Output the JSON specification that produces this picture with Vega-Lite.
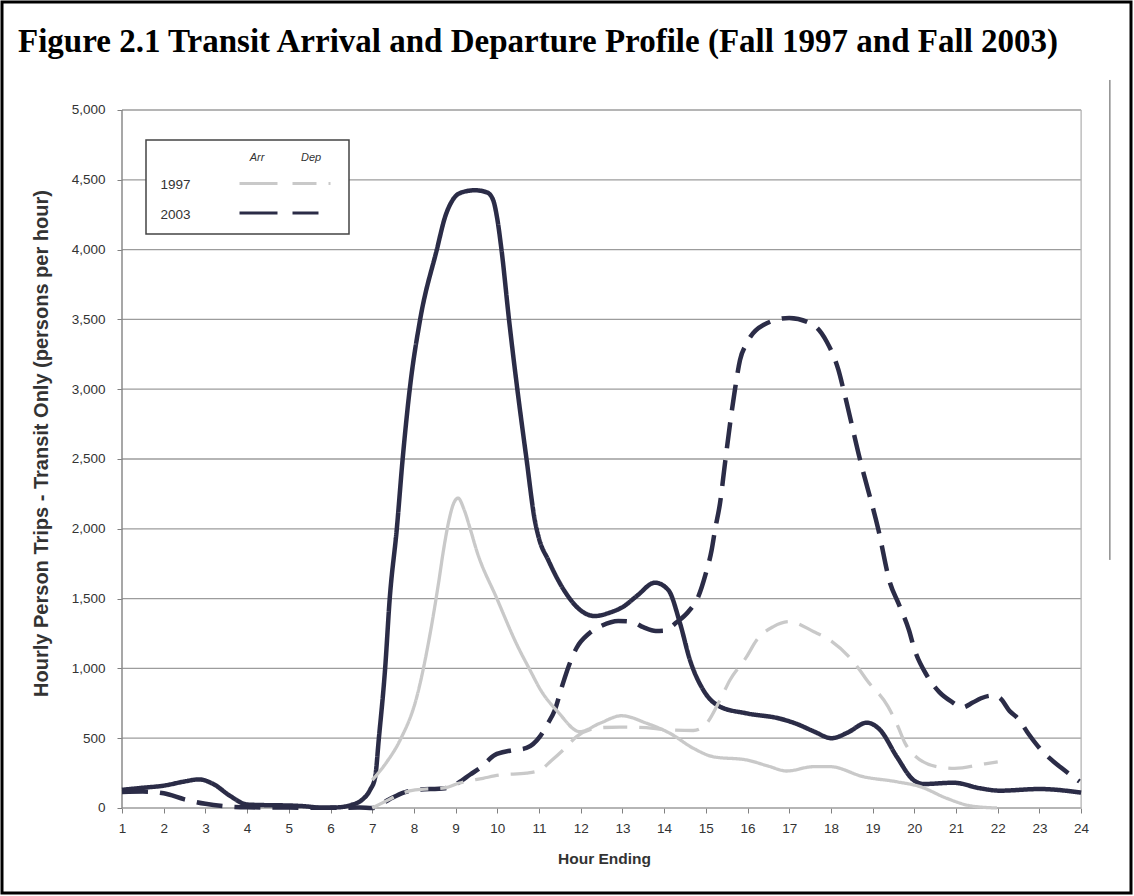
{
  "$schema": "https://vega.github.io/schema/vega-lite/v6.json",
  "width": 1129,
  "height": 891,
  "autosize": {"type": "none"},
  "padding": {"left": 2, "top": 2, "right": 3, "bottom": 3},
  "background": "white",
  "title": {
    "text": "Figure 2.1 Transit Arrival and Departure Profile (Fall 1997 and Fall 2003)",
    "font": "Liberation Serif", "fontSize": 33, "fontWeight": "bold", "color": "black",
    "anchor": "start", "orient": "top", "offset": 0, "dx": 16, "dy": 83, "baseline": "alphabetic"
  },
  "config": {
    "font": "Liberation Sans",
    "view": {"stroke": "black", "strokeWidth": 3, "fill": null},
    "legend": {"strokeWidth": 1.5}
  },
  "datasets": {
    "d": [
      {"s":"2003 Arr","yr":"2003","h":1,"v":130},{"s":"2003 Arr","yr":"2003","h":1.5,"v":145},{"s":"2003 Arr","yr":"2003","h":2,"v":160},{"s":"2003 Arr","yr":"2003","h":2.5,"v":190},{"s":"2003 Arr","yr":"2003","h":2.85,"v":205},{"s":"2003 Arr","yr":"2003","h":3.2,"v":170},{"s":"2003 Arr","yr":"2003","h":3.6,"v":85},{"s":"2003 Arr","yr":"2003","h":4,"v":25},{"s":"2003 Arr","yr":"2003","h":4.5,"v":20},{"s":"2003 Arr","yr":"2003","h":5,"v":18},{"s":"2003 Arr","yr":"2003","h":5.4,"v":12},{"s":"2003 Arr","yr":"2003","h":5.8,"v":2},{"s":"2003 Arr","yr":"2003","h":6.2,"v":5},{"s":"2003 Arr","yr":"2003","h":6.5,"v":22},{"s":"2003 Arr","yr":"2003","h":6.75,"v":57},{"s":"2003 Arr","yr":"2003","h":6.95,"v":130},{"s":"2003 Arr","yr":"2003","h":7.07,"v":220},{"s":"2003 Arr","yr":"2003","h":7.16,"v":500},{"s":"2003 Arr","yr":"2003","h":7.31,"v":1000},{"s":"2003 Arr","yr":"2003","h":7.42,"v":1500},{"s":"2003 Arr","yr":"2003","h":7.59,"v":2000},{"s":"2003 Arr","yr":"2003","h":7.73,"v":2500},{"s":"2003 Arr","yr":"2003","h":7.9,"v":3000},{"s":"2003 Arr","yr":"2003","h":8.15,"v":3500},{"s":"2003 Arr","yr":"2003","h":8.55,"v":4000},{"s":"2003 Arr","yr":"2003","h":8.75,"v":4236},{"s":"2003 Arr","yr":"2003","h":8.94,"v":4360},{"s":"2003 Arr","yr":"2003","h":9.15,"v":4410},{"s":"2003 Arr","yr":"2003","h":9.47,"v":4425},{"s":"2003 Arr","yr":"2003","h":9.75,"v":4410},{"s":"2003 Arr","yr":"2003","h":9.9,"v":4355},{"s":"2003 Arr","yr":"2003","h":9.99,"v":4236},{"s":"2003 Arr","yr":"2003","h":10.1,"v":4000},{"s":"2003 Arr","yr":"2003","h":10.28,"v":3500},{"s":"2003 Arr","yr":"2003","h":10.48,"v":3000},{"s":"2003 Arr","yr":"2003","h":10.7,"v":2500},{"s":"2003 Arr","yr":"2003","h":10.9,"v":2060},{"s":"2003 Arr","yr":"2003","h":11,"v":1930},{"s":"2003 Arr","yr":"2003","h":11.22,"v":1777},{"s":"2003 Arr","yr":"2003","h":11.6,"v":1560},{"s":"2003 Arr","yr":"2003","h":11.98,"v":1420},{"s":"2003 Arr","yr":"2003","h":12.34,"v":1375},{"s":"2003 Arr","yr":"2003","h":12.7,"v":1400},{"s":"2003 Arr","yr":"2003","h":13.02,"v":1442},{"s":"2003 Arr","yr":"2003","h":13.35,"v":1520},{"s":"2003 Arr","yr":"2003","h":13.78,"v":1614},{"s":"2003 Arr","yr":"2003","h":14.1,"v":1562},{"s":"2003 Arr","yr":"2003","h":14.38,"v":1325},{"s":"2003 Arr","yr":"2003","h":14.62,"v":1060},{"s":"2003 Arr","yr":"2003","h":14.94,"v":845},{"s":"2003 Arr","yr":"2003","h":15.34,"v":726},{"s":"2003 Arr","yr":"2003","h":15.98,"v":678},{"s":"2003 Arr","yr":"2003","h":16.78,"v":640},{"s":"2003 Arr","yr":"2003","h":17.2,"v":600},{"s":"2003 Arr","yr":"2003","h":17.58,"v":550},{"s":"2003 Arr","yr":"2003","h":18.02,"v":500},{"s":"2003 Arr","yr":"2003","h":18.4,"v":540},{"s":"2003 Arr","yr":"2003","h":18.86,"v":611},{"s":"2003 Arr","yr":"2003","h":19.18,"v":559},{"s":"2003 Arr","yr":"2003","h":19.58,"v":367},{"s":"2003 Arr","yr":"2003","h":19.98,"v":200},{"s":"2003 Arr","yr":"2003","h":20.22,"v":172},{"s":"2003 Arr","yr":"2003","h":20.94,"v":181},{"s":"2003 Arr","yr":"2003","h":21.58,"v":141},{"s":"2003 Arr","yr":"2003","h":22.05,"v":124},{"s":"2003 Arr","yr":"2003","h":23,"v":136},{"s":"2003 Arr","yr":"2003","h":24,"v":110},

      {"s":"2003 Dep","yr":"2003","h":1,"v":115},{"s":"2003 Dep","yr":"2003","h":1.5,"v":118},{"s":"2003 Dep","yr":"2003","h":2,"v":105},{"s":"2003 Dep","yr":"2003","h":2.5,"v":62},{"s":"2003 Dep","yr":"2003","h":3,"v":30},{"s":"2003 Dep","yr":"2003","h":3.5,"v":12},{"s":"2003 Dep","yr":"2003","h":4,"v":5},{"s":"2003 Dep","yr":"2003","h":5,"v":3},{"s":"2003 Dep","yr":"2003","h":6,"v":1},{"s":"2003 Dep","yr":"2003","h":6.7,"v":3},{"s":"2003 Dep","yr":"2003","h":7,"v":0},{"s":"2003 Dep","yr":"2003","h":7.4,"v":60},{"s":"2003 Dep","yr":"2003","h":7.75,"v":110},{"s":"2003 Dep","yr":"2003","h":8.03,"v":130},{"s":"2003 Dep","yr":"2003","h":8.75,"v":142},{"s":"2003 Dep","yr":"2003","h":9.06,"v":180},{"s":"2003 Dep","yr":"2003","h":9.35,"v":240},{"s":"2003 Dep","yr":"2003","h":9.6,"v":290},{"s":"2003 Dep","yr":"2003","h":9.94,"v":380},{"s":"2003 Dep","yr":"2003","h":10.3,"v":410},{"s":"2003 Dep","yr":"2003","h":10.7,"v":430},{"s":"2003 Dep","yr":"2003","h":11.02,"v":511},{"s":"2003 Dep","yr":"2003","h":11.2,"v":600},{"s":"2003 Dep","yr":"2003","h":11.38,"v":702},{"s":"2003 Dep","yr":"2003","h":11.55,"v":870},{"s":"2003 Dep","yr":"2003","h":11.74,"v":1039},{"s":"2003 Dep","yr":"2003","h":11.9,"v":1146},{"s":"2003 Dep","yr":"2003","h":12.2,"v":1250},{"s":"2003 Dep","yr":"2003","h":12.5,"v":1305},{"s":"2003 Dep","yr":"2003","h":12.9,"v":1340},{"s":"2003 Dep","yr":"2003","h":13.22,"v":1335},{"s":"2003 Dep","yr":"2003","h":13.5,"v":1295},{"s":"2003 Dep","yr":"2003","h":13.8,"v":1268},{"s":"2003 Dep","yr":"2003","h":14,"v":1270},{"s":"2003 Dep","yr":"2003","h":14.3,"v":1330},{"s":"2003 Dep","yr":"2003","h":14.58,"v":1406},{"s":"2003 Dep","yr":"2003","h":14.82,"v":1514},{"s":"2003 Dep","yr":"2003","h":15,"v":1680},{"s":"2003 Dep","yr":"2003","h":15.14,"v":1848},{"s":"2003 Dep","yr":"2003","h":15.22,"v":1991},{"s":"2003 Dep","yr":"2003","h":15.34,"v":2182},{"s":"2003 Dep","yr":"2003","h":15.46,"v":2470},{"s":"2003 Dep","yr":"2003","h":15.58,"v":2750},{"s":"2003 Dep","yr":"2003","h":15.7,"v":3000},{"s":"2003 Dep","yr":"2003","h":15.82,"v":3209},{"s":"2003 Dep","yr":"2003","h":15.98,"v":3328},{"s":"2003 Dep","yr":"2003","h":16.38,"v":3460},{"s":"2003 Dep","yr":"2003","h":17,"v":3510},{"s":"2003 Dep","yr":"2003","h":17.58,"v":3460},{"s":"2003 Dep","yr":"2003","h":17.9,"v":3340},{"s":"2003 Dep","yr":"2003","h":18.18,"v":3138},{"s":"2003 Dep","yr":"2003","h":18.3,"v":2999},{"s":"2003 Dep","yr":"2003","h":18.7,"v":2493},{"s":"2003 Dep","yr":"2003","h":19.14,"v":1991},{"s":"2003 Dep","yr":"2003","h":19.42,"v":1610},{"s":"2003 Dep","yr":"2003","h":19.62,"v":1466},{"s":"2003 Dep","yr":"2003","h":19.87,"v":1275},{"s":"2003 Dep","yr":"2003","h":20,"v":1140},{"s":"2003 Dep","yr":"2003","h":20.3,"v":950},{"s":"2003 Dep","yr":"2003","h":20.6,"v":830},{"s":"2003 Dep","yr":"2003","h":20.9,"v":760},{"s":"2003 Dep","yr":"2003","h":21.15,"v":720},{"s":"2003 Dep","yr":"2003","h":21.4,"v":755},{"s":"2003 Dep","yr":"2003","h":21.6,"v":786},{"s":"2003 Dep","yr":"2003","h":21.85,"v":805},{"s":"2003 Dep","yr":"2003","h":22.02,"v":795},{"s":"2003 Dep","yr":"2003","h":22.3,"v":690},{"s":"2003 Dep","yr":"2003","h":22.49,"v":640},{"s":"2003 Dep","yr":"2003","h":22.74,"v":530},{"s":"2003 Dep","yr":"2003","h":23,"v":430},{"s":"2003 Dep","yr":"2003","h":23.25,"v":355},{"s":"2003 Dep","yr":"2003","h":23.54,"v":284},{"s":"2003 Dep","yr":"2003","h":23.96,"v":190},

      {"s":"1997 Arr","yr":"1997","h":7,"v":200},{"s":"1997 Arr","yr":"1997","h":7.35,"v":330},{"s":"1997 Arr","yr":"1997","h":7.67,"v":487},{"s":"1997 Arr","yr":"1997","h":8.07,"v":797},{"s":"1997 Arr","yr":"1997","h":8.39,"v":1251},{"s":"1997 Arr","yr":"1997","h":8.59,"v":1610},{"s":"1997 Arr","yr":"1997","h":8.71,"v":1848},{"s":"1997 Arr","yr":"1997","h":8.84,"v":2060},{"s":"1997 Arr","yr":"1997","h":8.95,"v":2180},{"s":"1997 Arr","yr":"1997","h":9.06,"v":2220},{"s":"1997 Arr","yr":"1997","h":9.2,"v":2140},{"s":"1997 Arr","yr":"1997","h":9.35,"v":2000},{"s":"1997 Arr","yr":"1997","h":9.5,"v":1848},{"s":"1997 Arr","yr":"1997","h":9.99,"v":1500},{"s":"1997 Arr","yr":"1997","h":10.47,"v":1170},{"s":"1997 Arr","yr":"1997","h":10.78,"v":990},{"s":"1997 Arr","yr":"1997","h":11.05,"v":840},{"s":"1997 Arr","yr":"1997","h":11.45,"v":690},{"s":"1997 Arr","yr":"1997","h":11.98,"v":547},{"s":"1997 Arr","yr":"1997","h":12.46,"v":607},{"s":"1997 Arr","yr":"1997","h":12.98,"v":661},{"s":"1997 Arr","yr":"1997","h":13.58,"v":607},{"s":"1997 Arr","yr":"1997","h":14.14,"v":535},{"s":"1997 Arr","yr":"1997","h":14.7,"v":428},{"s":"1997 Arr","yr":"1997","h":15.18,"v":367},{"s":"1997 Arr","yr":"1997","h":15.98,"v":344},{"s":"1997 Arr","yr":"1997","h":16.5,"v":300},{"s":"1997 Arr","yr":"1997","h":16.94,"v":265},{"s":"1997 Arr","yr":"1997","h":17.58,"v":296},{"s":"1997 Arr","yr":"1997","h":17.98,"v":296},{"s":"1997 Arr","yr":"1997","h":18.78,"v":224},{"s":"1997 Arr","yr":"1997","h":19.58,"v":188},{"s":"1997 Arr","yr":"1997","h":20.14,"v":153},{"s":"1997 Arr","yr":"1997","h":20.78,"v":69},{"s":"1997 Arr","yr":"1997","h":21.34,"v":16},{"s":"1997 Arr","yr":"1997","h":21.98,"v":0},

      {"s":"1997 Dep","yr":"1997","h":7,"v":0},{"s":"1997 Dep","yr":"1997","h":7.4,"v":60},{"s":"1997 Dep","yr":"1997","h":7.71,"v":105},{"s":"1997 Dep","yr":"1997","h":8.03,"v":129},{"s":"1997 Dep","yr":"1997","h":8.75,"v":145},{"s":"1997 Dep","yr":"1997","h":9.07,"v":177},{"s":"1997 Dep","yr":"1997","h":9.66,"v":213},{"s":"1997 Dep","yr":"1997","h":10.06,"v":236},{"s":"1997 Dep","yr":"1997","h":10.7,"v":250},{"s":"1997 Dep","yr":"1997","h":11.02,"v":272},{"s":"1997 Dep","yr":"1997","h":11.3,"v":340},{"s":"1997 Dep","yr":"1997","h":11.58,"v":415},{"s":"1997 Dep","yr":"1997","h":11.9,"v":511},{"s":"1997 Dep","yr":"1997","h":12.46,"v":575},{"s":"1997 Dep","yr":"1997","h":12.94,"v":580},{"s":"1997 Dep","yr":"1997","h":13.74,"v":571},{"s":"1997 Dep","yr":"1997","h":14.06,"v":560},{"s":"1997 Dep","yr":"1997","h":14.7,"v":555},{"s":"1997 Dep","yr":"1997","h":15.02,"v":607},{"s":"1997 Dep","yr":"1997","h":15.34,"v":774},{"s":"1997 Dep","yr":"1997","h":15.58,"v":917},{"s":"1997 Dep","yr":"1997","h":15.98,"v":1084},{"s":"1997 Dep","yr":"1997","h":16.22,"v":1203},{"s":"1997 Dep","yr":"1997","h":16.62,"v":1299},{"s":"1997 Dep","yr":"1997","h":17,"v":1335},{"s":"1997 Dep","yr":"1997","h":17.59,"v":1263},{"s":"1997 Dep","yr":"1997","h":18.01,"v":1195},{"s":"1997 Dep","yr":"1997","h":18.43,"v":1084},{"s":"1997 Dep","yr":"1997","h":18.69,"v":989},{"s":"1997 Dep","yr":"1997","h":18.86,"v":917},{"s":"1997 Dep","yr":"1997","h":19.37,"v":726},{"s":"1997 Dep","yr":"1997","h":19.61,"v":582},{"s":"1997 Dep","yr":"1997","h":19.78,"v":463},{"s":"1997 Dep","yr":"1997","h":20.04,"v":367},{"s":"1997 Dep","yr":"1997","h":20.55,"v":296},{"s":"1997 Dep","yr":"1997","h":20.97,"v":284},{"s":"1997 Dep","yr":"1997","h":21.66,"v":315},{"s":"1997 Dep","yr":"1997","h":22,"v":330}
    ],
    "grid": [{"g":0},{"g":500},{"g":1000},{"g":1500},{"g":2000},{"g":2500},{"g":3000},{"g":3500},{"g":4000},{"g":4500},{"g":5000}]
  },
  "layer": [
    {
      "data": {"name": "grid"},
      "mark": {"type": "rule", "color": "#9c9c9c", "strokeWidth": 1.3},
      "encoding": {
        "y": {"field": "g", "type": "quantitative", "scale": {"domain": [-608.9, 5773.6], "nice": false, "zero": false},
          "axis": {"values": [0,500,1000,1500,2000,2500,3000,3500,4000,4500,5000], "format": ",.0f", "offset": -120, "domain": false, "grid": false, "tickSize": 5, "tickColor": "#808080", "tickWidth": 1, "labelPadding": 12, "labelFont": "Liberation Sans", "labelFontSize": 13.5, "labelColor": "#333333", "labelOverlap": false, "labelFlush": false, "title": "Hourly Person Trips - Transit Only (persons per hour)", "titleFont": "Liberation Sans", "titleFontSize": 20, "titleFontWeight": "bold", "titleColor": "#333333", "titleX": -81, "titleY": 441, "titleAngle": 270, "titleAlign": "center", "titleBaseline": "middle"}},
        "x": {"datum": 1, "type": "quantitative", "scale": {"domain": [-1.8777, 25.196], "nice": false, "zero": false},
          "axis": {"values": [1,2,3,4,5,6,7,8,9,10,11,12,13,14,15,16,17,18,19,20,21,22,23,24], "offset": -85, "domain": false, "grid": false, "tickSize": 5, "tickColor": "#808080", "tickWidth": 1, "labelPadding": 8, "labelFont": "Liberation Sans", "labelFontSize": 13.5, "labelColor": "#333333", "labelOverlap": false, "labelFlush": false, "title": "Hour Ending", "titleFont": "Liberation Sans", "titleFontSize": 15.5, "titleFontWeight": "bold", "titleColor": "#333333", "titleX": 602, "titleY": 50, "titleAlign": "center", "titleBaseline": "middle"}},
        "x2": {"datum": 24}
      }
    },
    {
      "data": {"values": [{}]},
      "mark": {"type": "rule", "color": "#8a8a8a", "strokeWidth": 1.5},
      "encoding": {
        "x": {"datum": 1, "type": "quantitative",
          "axis": {"values": [1,2,3,4,5,6,7,8,9,10,11,12,13,14,15,16,17,18,19,20,21,22,23,24], "offset": -85, "domain": false, "grid": false, "tickSize": 5, "tickColor": "#808080", "tickWidth": 1, "labelPadding": 8, "labelFont": "Liberation Sans", "labelFontSize": 13.5, "labelColor": "#333333", "labelOverlap": false, "labelFlush": false, "title": "Hour Ending", "titleFont": "Liberation Sans", "titleFontSize": 15.5, "titleFontWeight": "bold", "titleColor": "#333333", "titleX": 602, "titleY": 50, "titleAlign": "center", "titleBaseline": "middle"}},
        "y": {"datum": 0, "type": "quantitative",
          "axis": {"values": [0,500,1000,1500,2000,2500,3000,3500,4000,4500,5000], "format": ",.0f", "offset": -120, "domain": false, "grid": false, "tickSize": 5, "tickColor": "#808080", "tickWidth": 1, "labelPadding": 12, "labelFont": "Liberation Sans", "labelFontSize": 13.5, "labelColor": "#333333", "labelOverlap": false, "labelFlush": false, "title": "Hourly Person Trips - Transit Only (persons per hour)", "titleFont": "Liberation Sans", "titleFontSize": 20, "titleFontWeight": "bold", "titleColor": "#333333", "titleX": -81, "titleY": 441, "titleAngle": 270, "titleAlign": "center", "titleBaseline": "middle"}},
        "y2": {"datum": 5000}
      }
    },
    {
      "data": {"values": [{}]},
      "mark": {"type": "rule", "color": "#b4b4b4", "strokeWidth": 1.3},
      "encoding": {
        "x": {"datum": 24, "type": "quantitative",
          "axis": {"values": [1,2,3,4,5,6,7,8,9,10,11,12,13,14,15,16,17,18,19,20,21,22,23,24], "offset": -85, "domain": false, "grid": false, "tickSize": 5, "tickColor": "#808080", "tickWidth": 1, "labelPadding": 8, "labelFont": "Liberation Sans", "labelFontSize": 13.5, "labelColor": "#333333", "labelOverlap": false, "labelFlush": false, "title": "Hour Ending", "titleFont": "Liberation Sans", "titleFontSize": 15.5, "titleFontWeight": "bold", "titleColor": "#333333", "titleX": 602, "titleY": 50, "titleAlign": "center", "titleBaseline": "middle"}},
        "y": {"datum": 0, "type": "quantitative",
          "axis": {"values": [0,500,1000,1500,2000,2500,3000,3500,4000,4500,5000], "format": ",.0f", "offset": -120, "domain": false, "grid": false, "tickSize": 5, "tickColor": "#808080", "tickWidth": 1, "labelPadding": 12, "labelFont": "Liberation Sans", "labelFontSize": 13.5, "labelColor": "#333333", "labelOverlap": false, "labelFlush": false, "title": "Hourly Person Trips - Transit Only (persons per hour)", "titleFont": "Liberation Sans", "titleFontSize": 20, "titleFontWeight": "bold", "titleColor": "#333333", "titleX": -81, "titleY": 441, "titleAngle": 270, "titleAlign": "center", "titleBaseline": "middle"}},
        "y2": {"datum": 5000}
      }
    },
    {
      "data": {"values": [{}]},
      "mark": {"type": "rule", "color": "#555555", "strokeWidth": 1},
      "encoding": {
        "x": {"datum": 24.69, "type": "quantitative",
          "axis": {"values": [1,2,3,4,5,6,7,8,9,10,11,12,13,14,15,16,17,18,19,20,21,22,23,24], "offset": -85, "domain": false, "grid": false, "tickSize": 5, "tickColor": "#808080", "tickWidth": 1, "labelPadding": 8, "labelFont": "Liberation Sans", "labelFontSize": 13.5, "labelColor": "#333333", "labelOverlap": false, "labelFlush": false, "title": "Hour Ending", "titleFont": "Liberation Sans", "titleFontSize": 15.5, "titleFontWeight": "bold", "titleColor": "#333333", "titleX": 602, "titleY": 50, "titleAlign": "center", "titleBaseline": "middle"}},
        "y": {"datum": 1777, "type": "quantitative",
          "axis": {"values": [0,500,1000,1500,2000,2500,3000,3500,4000,4500,5000], "format": ",.0f", "offset": -120, "domain": false, "grid": false, "tickSize": 5, "tickColor": "#808080", "tickWidth": 1, "labelPadding": 12, "labelFont": "Liberation Sans", "labelFontSize": 13.5, "labelColor": "#333333", "labelOverlap": false, "labelFlush": false, "title": "Hourly Person Trips - Transit Only (persons per hour)", "titleFont": "Liberation Sans", "titleFontSize": 20, "titleFontWeight": "bold", "titleColor": "#333333", "titleX": -81, "titleY": 441, "titleAngle": 270, "titleAlign": "center", "titleBaseline": "middle"}},
        "y2": {"datum": 5215}
      }
    },
    {
      "data": {"name": "d"},
      "transform": [{"filter": "datum.yr == '2003'"}],
      "mark": {"type": "line", "interpolate": "monotone", "strokeWidth": 4.5, "strokeCap": "butt", "strokeJoin": "round"},
      "encoding": {
        "x": {"field": "h", "type": "quantitative",
          "axis": {"values": [1,2,3,4,5,6,7,8,9,10,11,12,13,14,15,16,17,18,19,20,21,22,23,24], "offset": -85, "domain": false, "grid": false, "tickSize": 5, "tickColor": "#808080", "tickWidth": 1, "labelPadding": 8, "labelFont": "Liberation Sans", "labelFontSize": 13.5, "labelColor": "#333333", "labelOverlap": false, "labelFlush": false, "title": "Hour Ending", "titleFont": "Liberation Sans", "titleFontSize": 15.5, "titleFontWeight": "bold", "titleColor": "#333333", "titleX": 602, "titleY": 50, "titleAlign": "center", "titleBaseline": "middle"}},
        "y": {"field": "v", "type": "quantitative",
          "axis": {"values": [0,500,1000,1500,2000,2500,3000,3500,4000,4500,5000], "format": ",.0f", "offset": -120, "domain": false, "grid": false, "tickSize": 5, "tickColor": "#808080", "tickWidth": 1, "labelPadding": 12, "labelFont": "Liberation Sans", "labelFontSize": 13.5, "labelColor": "#333333", "labelOverlap": false, "labelFlush": false, "title": "Hourly Person Trips - Transit Only (persons per hour)", "titleFont": "Liberation Sans", "titleFontSize": 20, "titleFontWeight": "bold", "titleColor": "#333333", "titleX": -81, "titleY": 441, "titleAngle": 270, "titleAlign": "center", "titleBaseline": "middle"}},
        "color": {
          "field": "s", "type": "nominal", "title": null,
          "scale": {"domain": ["1997 Arr","1997 Dep","2003 Arr","2003 Dep"], "range": ["#c9c9c9","#c9c9c9","#2b2c47","#2b2c47"]},
          "legend": {
            "orient": "none", "legendX": 236, "legendY": 161, "direction": "horizontal", "columns": 2,
            "symbolType": "stroke", "symbolSize": 1444, "symbolStrokeWidth": 3,
            "labelExpr": "''", "labelOffset": 0, "labelFontSize": 13.5,
            "columnPadding": 2, "rowPadding": 2.5, "padding": 0,
            "strokeColor": null, "fillColor": null, "zindex": 2
          }
        },
        "strokeDash": {
          "field": "s", "type": "nominal", "title": null,
          "scale": {"domain": ["1997 Arr","1997 Dep","2003 Arr","2003 Dep"], "range": [[1,0],[24,12],[1,0],[26,12]]}
        },
        "opacity": {
          "field": "yr", "type": "ordinal",
          "title": "\u200b\u00a0\u00a0\u00a0\u00a0\u00a0\u00a0\u00a0\u00a0\u00a0\u00a0\u00a0\u00a0\u00a0\u00a0\u00a0\u00a0\u00a0\u00a0\u00a0\u00a0\u00a0\u00a0\u00a0\u00a0\u00a0\u00a0\u00a0\u00a0\u00a0\u00a0Arr\u00a0\u00a0\u00a0\u00a0\u00a0\u00a0\u00a0\u00a0\u00a0\u00a0\u00a0\u00a0Dep\u00a0\u00a0\u00a0\u00a0\u00a0\u200b",
          "scale": {"domain": ["1997","2003"], "range": [1,1]},
          "legend": {
            "orient": "none", "legendX": 144, "legendY": 138, "direction": "vertical",
            "titleFont": "Liberation Sans", "titleFontSize": 11, "titleFontStyle": "italic", "titleFontWeight": "normal", "titleColor": "#333333",
            "titleAnchor": "start", "titlePadding": 15, "titleLimit": 500,
            "symbolType": "stroke", "symbolSize": 1, "symbolOpacity": 0, "symbolStrokeWidth": 0,
            "labelOffset": -11, "labelFont": "Liberation Sans", "labelFontSize": 13.5, "labelColor": "#333333",
            "rowPadding": 15.5, "padding": 12, "strokeColor": "#444444", "fillColor": "white", "zindex": 1
          }
        }
      }
    },
    {
      "data": {"name": "d"},
      "transform": [{"filter": "datum.yr == '1997'"}],
      "mark": {"type": "line", "interpolate": "monotone", "strokeWidth": 3.3, "strokeCap": "butt", "strokeJoin": "round"},
      "encoding": {
        "x": {"field": "h", "type": "quantitative",
          "axis": {"values": [1,2,3,4,5,6,7,8,9,10,11,12,13,14,15,16,17,18,19,20,21,22,23,24], "offset": -85, "domain": false, "grid": false, "tickSize": 5, "tickColor": "#808080", "tickWidth": 1, "labelPadding": 8, "labelFont": "Liberation Sans", "labelFontSize": 13.5, "labelColor": "#333333", "labelOverlap": false, "labelFlush": false, "title": "Hour Ending", "titleFont": "Liberation Sans", "titleFontSize": 15.5, "titleFontWeight": "bold", "titleColor": "#333333", "titleX": 602, "titleY": 50, "titleAlign": "center", "titleBaseline": "middle"}},
        "y": {"field": "v", "type": "quantitative",
          "axis": {"values": [0,500,1000,1500,2000,2500,3000,3500,4000,4500,5000], "format": ",.0f", "offset": -120, "domain": false, "grid": false, "tickSize": 5, "tickColor": "#808080", "tickWidth": 1, "labelPadding": 12, "labelFont": "Liberation Sans", "labelFontSize": 13.5, "labelColor": "#333333", "labelOverlap": false, "labelFlush": false, "title": "Hourly Person Trips - Transit Only (persons per hour)", "titleFont": "Liberation Sans", "titleFontSize": 20, "titleFontWeight": "bold", "titleColor": "#333333", "titleX": -81, "titleY": 441, "titleAngle": 270, "titleAlign": "center", "titleBaseline": "middle"}},
        "color": {"field": "s", "type": "nominal", "title": null},
        "strokeDash": {"field": "s", "type": "nominal", "title": null},
        "opacity": {
          "field": "yr", "type": "ordinal",
          "title": "\u200b\u00a0\u00a0\u00a0\u00a0\u00a0\u00a0\u00a0\u00a0\u00a0\u00a0\u00a0\u00a0\u00a0\u00a0\u00a0\u00a0\u00a0\u00a0\u00a0\u00a0\u00a0\u00a0\u00a0\u00a0\u00a0\u00a0\u00a0\u00a0\u00a0\u00a0Arr\u00a0\u00a0\u00a0\u00a0\u00a0\u00a0\u00a0\u00a0\u00a0\u00a0\u00a0\u00a0Dep\u00a0\u00a0\u00a0\u00a0\u00a0\u200b"
        }
      }
    }
  ]
}
